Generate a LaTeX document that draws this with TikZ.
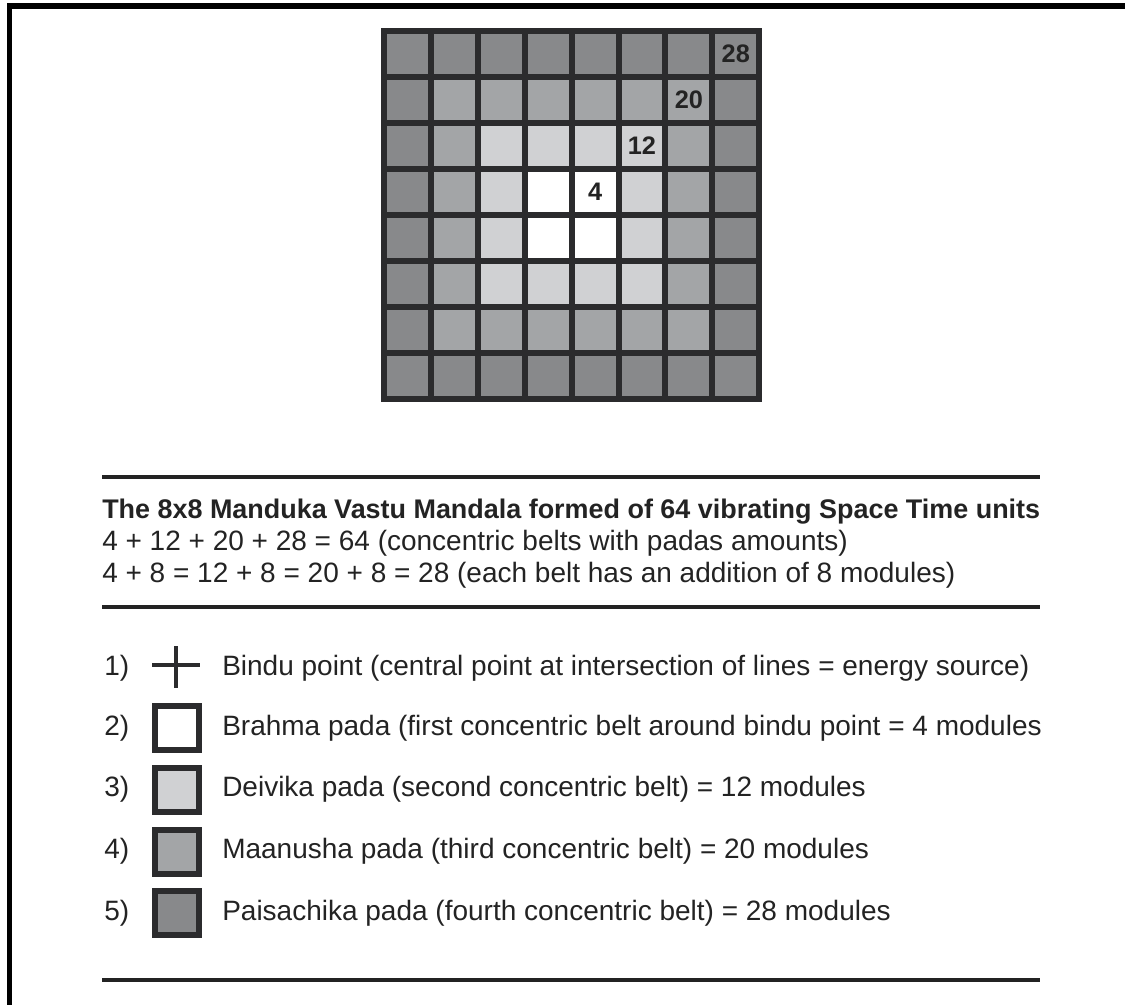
\documentclass[tikz,border=0pt]{standalone}
\usepackage{fontspec}
\setmainfont{Liberation Sans}
\usepackage{xcolor}
\usetikzlibrary{positioning}

\definecolor{belt1}{HTML}{FFFFFF}
\definecolor{belt3}{HTML}{D0D1D3}
\definecolor{belt5}{HTML}{A3A5A7}
\definecolor{belt7}{HTML}{88898B}
\definecolor{gridline}{HTML}{2B2B2D}
\definecolor{ink}{HTML}{232323}

\begin{document}
\begin{tikzpicture}[
  x=0.75pt, y=-0.75pt,
  font=\fontsize{21}{24}\selectfont,
  frame/.style={draw=black, line width=3.8pt},
  cell/.style={draw=gridline, line width=4.5pt},
  rule/.style={draw=ink, line width=2.3pt},
  count/.style={font=\fontsize{19}{21}\selectfont\bfseries, text=ink, inner sep=0pt},
  caption/.style={anchor=base west, text=ink, inner sep=0pt},
  keynum/.style={anchor=base west, text=ink, inner sep=0pt},
  keybox/.style={draw=gridline, line width=3.8pt, minimum size=33pt, inner sep=0pt},
  keytext/.style={anchor=base west, text=ink, inner sep=0pt},
  bindu/.style={draw=gridline, line width=3.2pt}
]
\useasboundingbox (0,0) rectangle (1125,1005);
\draw[frame] (9.5,1005) -- (9.5,6) -- (1125,6);

% 8x8 mandala, coloured by concentric belt
\foreach \i in {0,...,7}{
  \foreach \j in {0,...,7}{
    \pgfmathtruncatemacro\belt{max(abs(2*\i-7),abs(2*\j-7))}
    \draw[cell, fill=belt\belt] ({384+46.9*\i},{31+46*\j}) rectangle +(46.9,46);
    \coordinate (c-\i-\j) at ({384+46.9*\i+23.45},{31+46*\j+23});
  }
}
\node[count] (n28) at (c-7-0) {28};
\node[count] (n20) at (c-6-1) {20};
\node[count] (n12) at (c-5-2) {12};
\node[count] (n4) at (c-4-3) {4};

\draw[rule] (102,477) -- (1040,477);
\node[caption, font=\fontsize{20.2}{24}\selectfont\bfseries] (title) at (102,518)
  {The 8x8 Manduka Vastu Mandala formed of 64 vibrating Space Time units};
\node[caption] (sum) at (102,551)
  {4 + 12 + 20 + 28 = 64 (concentric belts with padas amounts)};
\node[caption] (step) at (102,582)
  {4 + 8 = 12 + 8 = 20 + 8 = 28 (each belt has an addition of 8 modules)};
\draw[rule] (102,607) -- (1040,607);

% legend
\node[keynum] (k1) at (104,675) {1)};
\coordinate (bindu) at (176,667);
\draw[bindu] (bindu) ++(-24,-2) -- ++(48,0) (bindu) ++(0,-21) -- ++(0,42);
\node[keytext] (t1) at (222,675)
  {Bindu point (central point at intersection of lines = energy source)};

\node[keynum] (k2) at (104,735) {2)};
\node[keybox, fill=belt1] (b2) at (177,728) {};
\node[keytext] (t2) at (222,735)
  {Brahma pada (first concentric belt around bindu point = 4 modules};

\node[keynum] (k3) at (104,796) {3)};
\node[keybox, fill=belt3] (b3) at (177,790) {};
\node[keytext] (t3) at (222,796)
  {Deivika pada (second concentric belt) = 12 modules};

\node[keynum] (k4) at (104,858) {4)};
\node[keybox, fill=belt5] (b4) at (177,852) {};
\node[keytext] (t4) at (222,858)
  {Maanusha pada (third concentric belt) = 20 modules};

\node[keynum] (k5) at (104,920) {5)};
\node[keybox, fill=belt7] (b5) at (177,913) {};
\node[keytext] (t5) at (222,920)
  {Paisachika pada (fourth concentric belt) = 28 modules};

\draw[rule] (102,980) -- (1040,980);
\end{tikzpicture}
\end{document}
